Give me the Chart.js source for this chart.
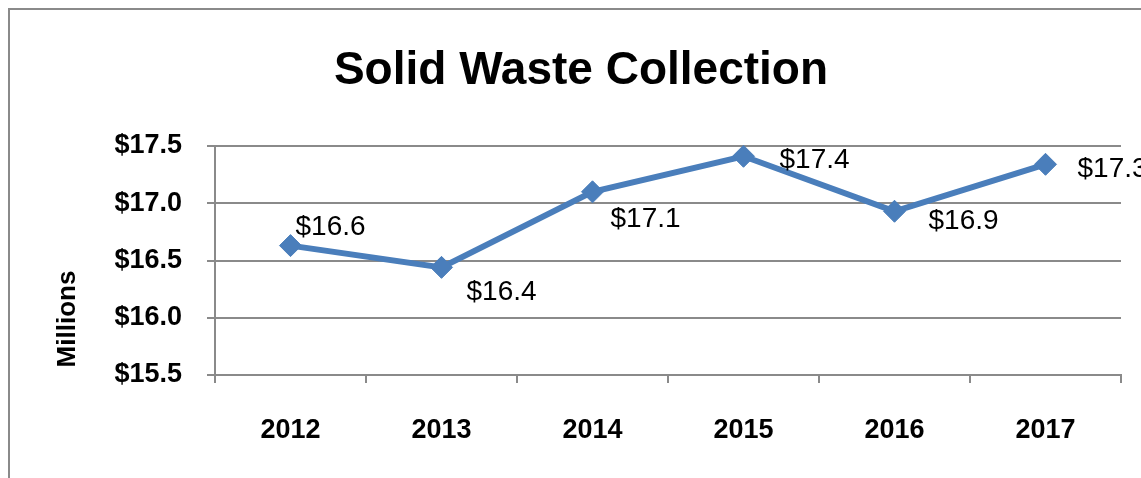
<!DOCTYPE html>
<html>
<head>
<meta charset="utf-8">
<script src="https://cdn.jsdelivr.net/npm/chart.js@4/dist/chart.umd.min.js"></script>
<style>
  html, body { margin: 0; padding: 0; background: #ffffff; }
  canvas { display: block; }
</style>
</head>
<body>
<canvas id="c" width="1141" height="478"></canvas>
<script>
// ---- data ----
const chartTitle = "Solid Waste Collection";
const axisTitle = "Millions";
const years = ["2012", "2013", "2014", "2015", "2016", "2017"];
const collection = [16.63, 16.44, 17.10, 17.41, 16.93, 17.34];
const yMin = 15.5;
const yMax = 17.5;
const yStep = 0.5;
// label placement (dx, dy from point to label's left/middle), styling only
const labelOffsets = [[5, -18], [25, 25], [18, 27], [36, 4], [34, 10], [32, 5]];

const FONT = "'Liberation Sans', Arial, sans-serif";
const GRID = "#8a8a8a";
const BLUE = "#4a7ebb";

const decorPlugin = {
  id: 'decor',
  beforeDraw(chart) {
    const ctx = chart.ctx;
    ctx.save();
    ctx.fillStyle = '#ffffff';
    ctx.fillRect(0, 0, chart.width, chart.height);
    ctx.strokeStyle = '#8a8a8a';
    ctx.lineWidth = 2;
    ctx.strokeRect(9, 9, 2000, 2000);
    ctx.restore();
  },
  afterDraw(chart) {
    const ctx = chart.ctx;
    ctx.save();
    ctx.fillStyle = '#000000';
    ctx.textAlign = 'center';
    ctx.textBaseline = 'middle';
    ctx.font = "bold 46px " + FONT;
    ctx.fillText(chartTitle, 581, 71);
    ctx.translate(68, 319);
    ctx.rotate(-Math.PI / 2);
    ctx.font = "bold 26px " + FONT;
    ctx.fillText(axisTitle, 0, 0);
    ctx.restore();

    // data labels
    const meta = chart.getDatasetMeta(0);
    ctx.save();
    ctx.font = "28px " + FONT;
    ctx.fillStyle = '#000000';
    ctx.textAlign = 'left';
    ctx.textBaseline = 'middle';
    meta.data.forEach((pt, i) => {
      const v = chart.data.datasets[0].data[i];
      const off = labelOffsets[i];
      ctx.fillText('$' + v.toFixed(1), pt.x + off[0], pt.y + off[1]);
    });
    ctx.restore();
  }
};

new Chart(document.getElementById('c'), {
  type: 'line',
  data: {
    labels: years,
    datasets: [{
      data: collection,
      borderColor: BLUE,
      backgroundColor: BLUE,
      borderWidth: 6,
      pointStyle: 'rectRot',
      pointRadius: 11,
      pointBorderWidth: 1,
      pointBackgroundColor: BLUE,
      pointBorderColor: BLUE,
      tension: 0,
      clip: false
    }]
  },
  options: {
    responsive: false,
    animation: false,
    devicePixelRatio: 1,
    layout: { padding: { top: 146, right: 20, bottom: 0, left: 0 } },
    plugins: {
      legend: { display: false },
      title: { display: false },
      tooltip: { enabled: false }
    },
    scales: {
      x: {
        offset: true,
        grid: {
          offset: true,
          drawOnChartArea: false,
          drawTicks: true,
          tickLength: 8,
          color: GRID,
          lineWidth: 2
        },
        border: { color: GRID, width: 2 },
        ticks: {
          color: '#000000',
          font: { family: FONT, size: 27, weight: 'bold' },
          padding: 31,
          maxRotation: 0
        },
        afterFit(scale) { scale.height = 103; }
      },
      y: {
        min: yMin,
        max: yMax,
        grid: {
          color: GRID,
          lineWidth: 2,
          tickLength: 8
        },
        border: { color: GRID, width: 2 },
        ticks: {
          stepSize: yStep,
          color: '#000000',
          font: { family: FONT, size: 27, weight: 'bold' },
          padding: 25,
          callback: (v) => '$' + Number(v).toFixed(1)
        },
        afterFit(scale) { scale.width = 215; }
      }
    }
  },
  plugins: [decorPlugin]
});
</script>
</body>
</html>
